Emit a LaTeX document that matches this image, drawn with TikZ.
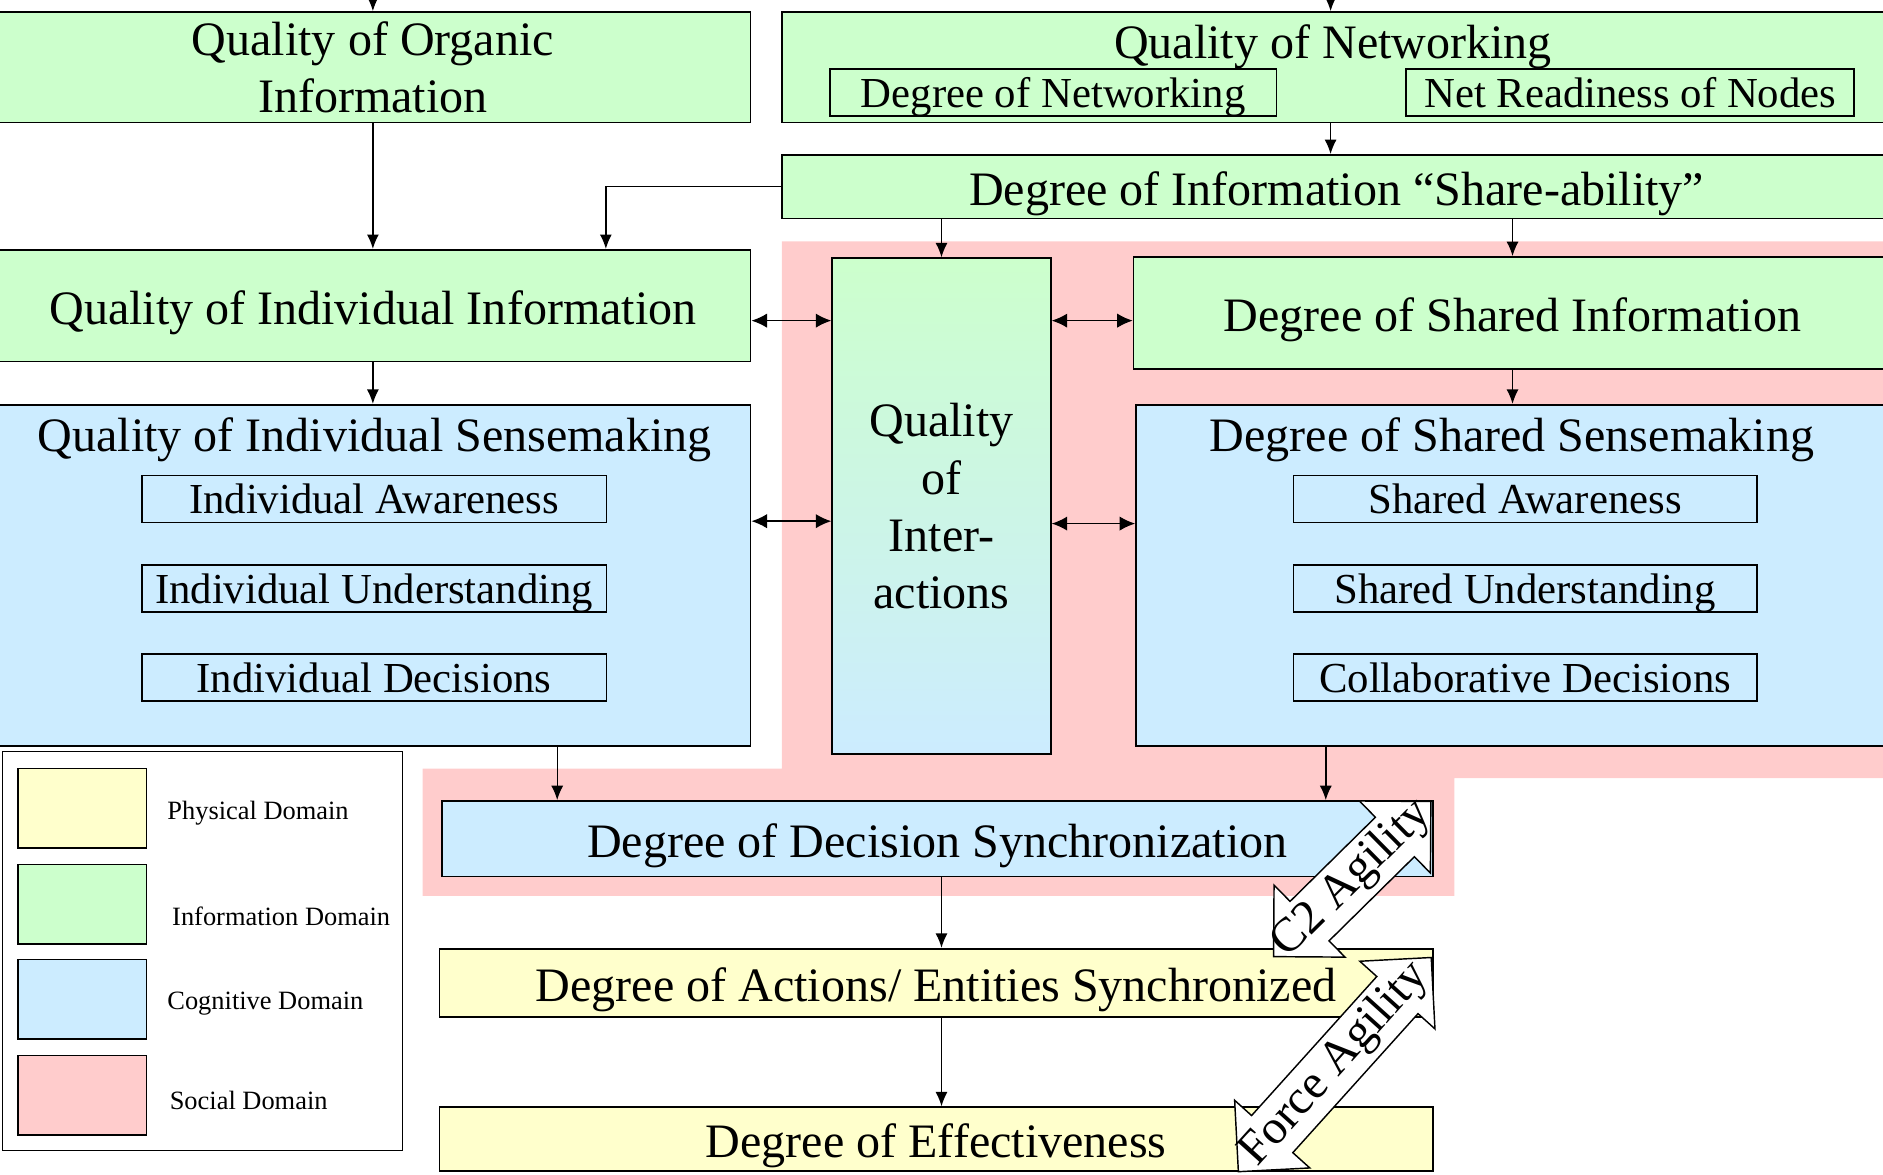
\documentclass[tikz,border=0pt]{standalone}
\usepackage{fontspec}
\setmainfont{Liberation Serif}
\usetikzlibrary{arrows.meta,shapes.arrows,positioning}

\definecolor{infogreen}{RGB}{204,255,204}
\definecolor{cogblue}{RGB}{204,236,255}
\definecolor{physyellow}{RGB}{255,255,204}
\definecolor{socialpink}{RGB}{255,204,204}

\begin{document}
\begin{tikzpicture}[x=0.5pt,y=-0.5pt,
    box/.style={draw=black,line width=0.7pt,inner sep=2pt,align=center,font=\fontsize{20}{23.5}\selectfont},
    onebox/.style={box,text height=15.9pt,text depth=0.5pt},
    title/.style={inner sep=0pt,font=\fontsize{20}{23.5}\selectfont},
    subbox/.style={draw=black,line width=0.7pt,inner sep=0pt,minimum height=19.5pt,text height=14.5pt,text depth=2pt,font=\fontsize{17.8}{21}\selectfont},
    flow/.style={-{Latex[length=6pt,width=5pt]},line width=0.6pt},
    twoway/.style={{Latex[length=6.5pt,width=6pt]}-{Latex[length=6.5pt,width=6pt]},line width=0.7pt},
    swatch/.style={draw=black,line width=0.7pt,minimum width=53.5pt,minimum height=33pt,inner sep=0pt},
    keytext/.style={anchor=west,inner sep=0pt,font=\fontsize{11}{13}\selectfont},
    agility/.style={double arrow,draw=black,line width=0.6pt,fill=white,double arrow head extend=9.5pt,double arrow head indent=0pt,inner xsep=0pt,inner ysep=11.25pt}
]
\useasboundingbox (0,0) rectangle (1568,978);

% social domain
\fill[socialpink] (651,201) -- (1575,201) -- (1575,648) -- (1211,648) -- (1211,746)
    -- (352,746) -- (352,640) -- (651,640) -- cycle;

% information domain
\node[box,fill=infogreen,minimum width=314.5pt,minimum height=46pt] (organic) at (310.5,56) {Quality of Organic\\Information};
\node[box,fill=infogreen,minimum width=462pt,minimum height=46pt] (network) at (1113,56) {};
\node[title] (networktitle) at (1110,39) {Quality of Networking};
\node[subbox,minimum width=186pt] (degnet) at (877,77) {Degree of Networking};
\node[subbox,minimum width=186.5pt] (netready) at (1357.5,77) {Net Readiness of Nodes};
\node[onebox,fill=infogreen,minimum width=462pt,minimum height=26.5pt] (share) at (1113,155.5) {Degree of Information “Share-ability”};
\node[onebox,fill=infogreen,minimum width=314.5pt,minimum height=46.5pt] (indinfo) at (310.5,254.5) {Quality of Individual Information};
\node[onebox,fill=infogreen,minimum width=315.5pt,minimum height=46.5pt] (sharedinfo) at (1259.5,260.5) {Degree of Shared Information};

% interactions
\node[box,top color=infogreen,bottom color=cogblue,minimum width=91pt,minimum height=206.5pt,font=\fontsize{20}{23.8}\selectfont] (interact) at (784,421.5) {Quality\\of\\Inter-\\actions};

% cognitive domain
\node[box,fill=cogblue,minimum width=314.5pt,minimum height=142pt] (indsense) at (310.5,479) {};
\node[title] (indsensetitle) at (312,366) {Quality of Individual Sensemaking};
\node[subbox,minimum width=193.5pt] (indaware) at (311.5,415.5) {Individual Awareness};
\node[subbox,minimum width=193.5pt,below=17pt of indaware] (indunder) {Individual Understanding};
\node[subbox,minimum width=193.5pt,below=17pt of indunder] (inddec) {Individual Decisions};

\node[box,fill=cogblue,minimum width=314.5pt,minimum height=142pt] (sharedsense) at (1260.5,479) {};
\node[title] (sharedsensetitle) at (1259,366) {Degree of Shared Sensemaking};
\node[subbox,minimum width=193pt] (sharedaware) at (1270,415.5) {Shared Awareness};
\node[subbox,minimum width=193pt,below=17pt of sharedaware] (sharedunder) {Shared Understanding};
\node[subbox,minimum width=193pt,below=17pt of sharedunder] (collabdec) {Collaborative Decisions};

\node[onebox,fill=cogblue,minimum width=412.5pt,minimum height=31.5pt] (decsync) at (780.5,698.5) {Degree of Decision Synchronization};

% physical domain
\node[onebox,fill=physyellow,minimum width=413.5pt,minimum height=28.5pt] (actions) at (779.5,818.5) {Degree of Actions/ Entities Synchronized};
\node[onebox,fill=physyellow,minimum width=413.5pt,minimum height=26.5pt] (effect) at (779.5,948.5) {Degree of Effectiveness};

% connectors
\coordinate (orgfeed) at (310.5,-10);
\coordinate (netfeed) at (1108,-10);
\draw[flow] (orgfeed) -- (organic.north);
\draw[flow] (netfeed) -- (netfeed |- network.north);
\draw[flow] (network.south -| netfeed) -- (share.north -| netfeed);
\draw[flow] (share.west) -| ([xshift=97pt]indinfo.north);
\draw[flow] (organic) -- (indinfo);
\draw[flow] (share.south -| interact.north) -- (interact.north);
\draw[flow] (share.south -| sharedinfo.north) -- (sharedinfo.north);
\draw[flow] (indinfo) -- (indsense);
\draw[flow] (sharedinfo.south) -- (sharedinfo.south |- sharedsense.north);

\draw[twoway] ([yshift=-6.25pt]indinfo.east) -- ([yshift=-6.25pt]indinfo.east -| interact.west);
\draw[twoway] ([yshift=-6.25pt]indinfo.east -| interact.east) -- ([yshift=-6.25pt]indinfo.east -| sharedinfo.west);
\draw[twoway] ([yshift=22.5pt]indsense.east) -- ([yshift=22.5pt]indsense.east -| interact.west);
\draw[twoway] ([yshift=21.5pt]indsense.east -| interact.east) -- ([yshift=21.5pt]indsense.east -| sharedsense.west);

\draw[flow] ([xshift=76.75pt]indsense.south) -- ([xshift=76.75pt]indsense.south |- decsync.north);
\draw[flow] ([xshift=-78.25pt]sharedsense.south) -- ([xshift=-78.25pt]sharedsense.south |- decsync.north);
\draw[flow] ([xshift=1.75pt]decsync.south) -- ([xshift=1.75pt]decsync.south |- actions.north);
\draw[flow] ([xshift=2.25pt]actions.south) -- ([xshift=2.25pt]actions.south |- effect.north);

% agility arrows
\node[agility,rotate=44.6,minimum height=92pt] (ctwo) at (1126,732) {};
\node[title,rotate=44.6] (ctwolabel) at (ctwo.center) {C2 Agility};
\node[agility,rotate=48,minimum height=120pt] (forceag) at (1111.5,886.5) {};
\node[title,rotate=48] (forceaglabel) at (forceag.center) {Force Agility};

% legend
\node[draw=black,line width=0.5pt,minimum width=166.5pt,minimum height=166pt,inner sep=0pt] (legend) at (168.5,792) {};
\foreach \col/\yy/\xx/\ly/\lab in {physyellow/673/139/677/Physical Domain,infogreen/753/143/763/Information Domain,cogblue/832/139/836/Cognitive Domain,socialpink/912/141/916/Social Domain}{
    \node[swatch,fill=\col] (swatch-\col) at (68.5,\yy) {};
    \node[keytext] (key-\col) at (\xx,\ly) {\lab};
}

\end{tikzpicture}
\end{document}
